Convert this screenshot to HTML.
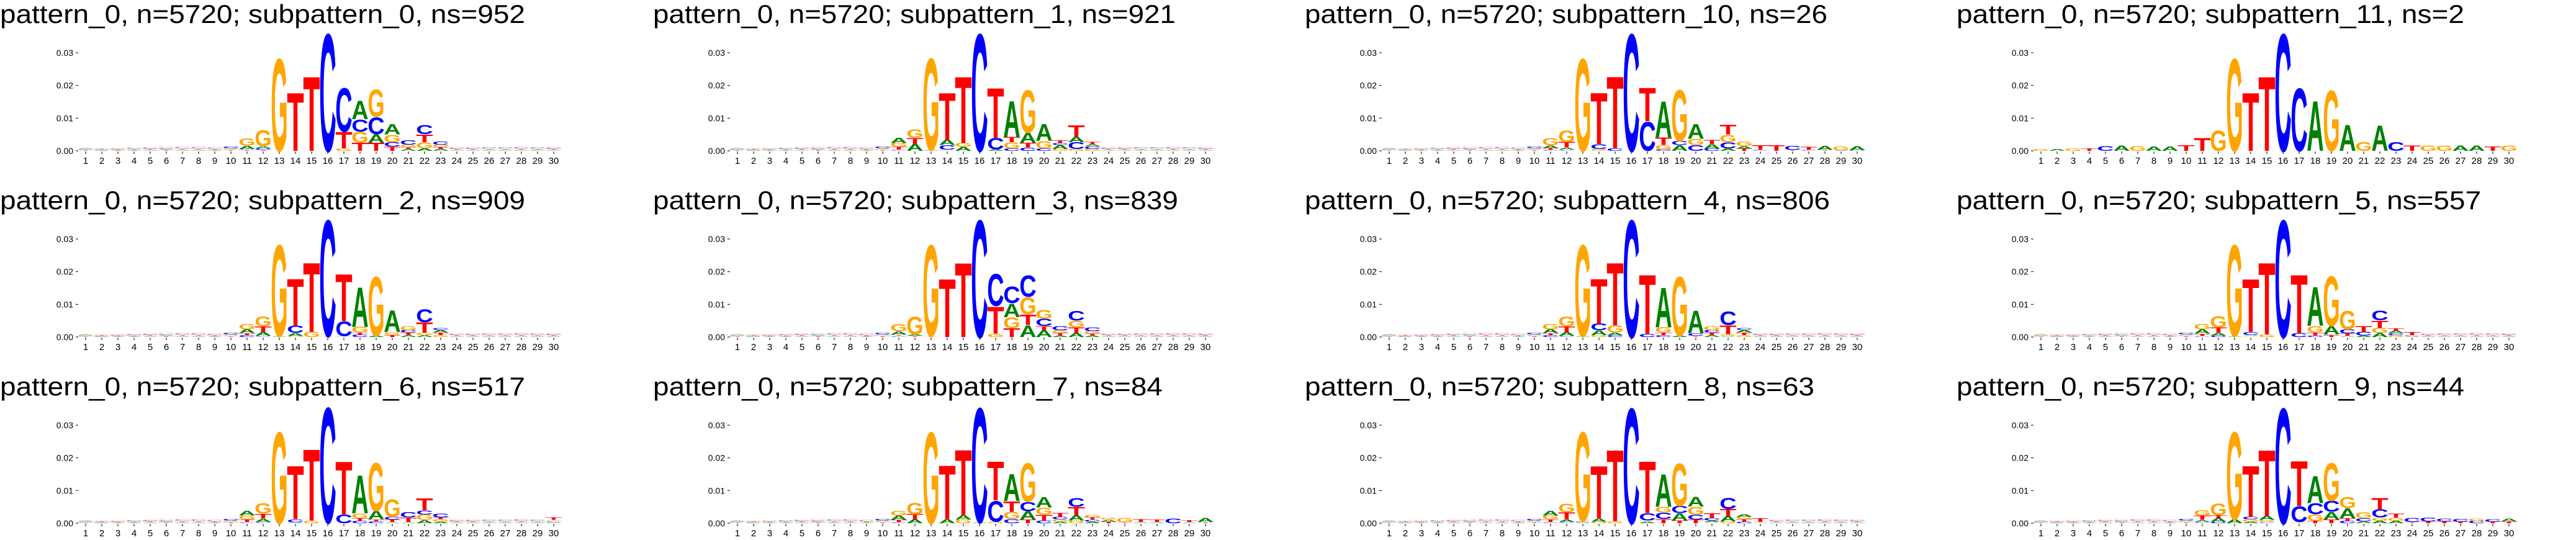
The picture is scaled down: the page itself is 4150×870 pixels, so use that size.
<!DOCTYPE html>
<html><head><meta charset="utf-8">
<style>
html,body{margin:0;padding:0;background:#fff;}
svg{display:block;}
</style></head>
<body>
<svg id="chart" width="4150" height="870" viewBox="0 0 4150 870" xmlns="http://www.w3.org/2000/svg"></svg>
<script>
// ---- data (heights in units of 0.001) ----
const positions = [1,2,3,4,5,6,7,8,9,10,11,12,13,14,15,16,17,18,19,20,21,22,23,24,25,26,27,28,29,30];
const yTicks = [0, 0.01, 0.02, 0.03];
const yTickLabels = ["0.00","0.01","0.02","0.03"];
const titles = [
 "pattern_0, n=5720; subpattern_0, ns=952","pattern_0, n=5720; subpattern_1, ns=921",
 "pattern_0, n=5720; subpattern_10, ns=26","pattern_0, n=5720; subpattern_11, ns=2",
 "pattern_0, n=5720; subpattern_2, ns=909","pattern_0, n=5720; subpattern_3, ns=839",
 "pattern_0, n=5720; subpattern_4, ns=806","pattern_0, n=5720; subpattern_5, ns=557",
 "pattern_0, n=5720; subpattern_6, ns=517","pattern_0, n=5720; subpattern_7, ns=84",
 "pattern_0, n=5720; subpattern_8, ns=63","pattern_0, n=5720; subpattern_9, ns=44"];
const background = ["T.2 C.2 G.2 A.2","A.2 C.2 T.2 G.2","A.2 T.2 C.2 G.3","A.2 T.2 G.2 C.3","A.3 T.3 C.3 G.4","T.3 A.3 C.4 G.4","A.3 T.3 G.3 C.4","A.3 T.3 G.3 C.3","A.2 T.3 G.2 C.3","T.3 G.3 A.3 C.5",
 "","","","","","","","","","","","","",
 "A.3 T.3 C.3 G.4","A.3 T.3 C.3 G.4","A.3 T.2 G.3 C.3","A.3 T.2 G.3 C.3","A.3 T.3 G.3 C.4","A.3 T.2 G.3 C.3","A.3 T.3 C.3 G.4"];
const sub0 = ["","","","","","","","","","","T.3 C.3 A1 G2.2","T.3 C.5 A.6 G5","G29","T18.3","T23.4","C36.8","G.8 T5.1 C13.7","T2.5 G3.4 C3.8 A5.8","T2.5 A2.6 C5.3 G8.6","T1.3 C1.4 G2.3 A3.3","A.6 T.5 G.8 C1.4","A.8 G1.9 T2.4 C2.9","A.6 T.6 G.7 C1","","","","","","",""];
const sub1 = ["","","","","","","","","","","C.4 T.9 G1.1 A1.6","A2.1 T1.9 G2.6","A.3 G28.8","G.4 C1.4 A1.6 T14.8","A1.2 G1.2 T20.9","C36.8","A.5 C3.5 T15.6","C.8 G1.9 T1.6 A11.3","C1 T1.5 A3.1 G13.4","C.8 G2.2 A5.3","G.6 A1.2 C.6 T.9","G.6 C2.1 A1.6 T3.7","G.6 C.8 A.6 T.8","","","","","","",""];
const sub10 = ["","","","","","","","","","","C.3 T.6 A.8 G2.3","C.4 A.6 T1.7 G3.7","G29","G.6 C1.5 T16.1","C.8 T22.6","C36.8","C9.1 T10.5","C.5 G1.3 T2.4 A11.4","A1.8 C1.2 G16","C1.8 G1.9 A4.6","C.7 A1.4 T1.2","A.8 C1.9 G2.3 T3","T.7 A.8 G1.4","C.3 T1.5","T1.8","T.3 C1.3","C.3 T1","T.3 A1.2","A.2 G1.1","C.2 A1.2"];
const sub11 = ["G.6","A.6","G.7","T.7","C1.5","A1.6","G1.5","A1.4","A1.4","T1.7","T4","G6.4","G29","T18.3","T23.4","C36.8","C19.7","A15.6","G19","A8.2","G2.7","A8","C2.7","T1.6","G1.6","G1.6","A1.6","A1.6","T1.4","G1.6"];
const sub2 = ["","","","","","","","","","","C.6 T.6 A1.2 G1.6","C.4 A1.1 T1.7 G3.2","A.3 G28.7","G.3 A1 C2.2 T14.8","G1.6 T21.8","T.3 C36.5","G.3 C4.6 T14.7","C.8 T.6 G1.7 A12.5","A.5 G18.5","T.6 G.9 A6.8","A.6 T.8 C.7 G1.3","A.6 G.7 T3.3 C4","G.6 T.8 A.8 C.6","","","","","","",""];
const sub3 = ["","","","","","","","","","","C.4 T.4 A1 G2.2","T.4 A.5 G5.5","T.3 G28.7","T18.3","T23.4","C36.8","G1 T8.5 C10.1","T2.7 G3.4 A4.3 C5.1","A3.7 T3.3 G5.3 C6.7","A2.1 T1.3 C2.2 G2.7","A.5 T.8 G.8 C1.2","A1.2 T1.8 G2 C3","A.5 T.6 G.7 C1.1","","","","","","",""];
const sub4 = ["","","","","","","","","","","C.6 T.6 A1.2 G1.6","C.4 A1.1 T1.7 G3.2","A.3 G28.7","G.6 A1.5 C2.1 T14","C.6 A.8 G2.2 T19.7","C36.8","C1 T18.6","C.6 T.8 G1.6 A12.5","A.5 G18.5","T.4 C.8 A7.1","A.6 T.8 C.7 G1.2","A.4 G.5 T2.8 C4.3","G.6 T.8 A.8 C.6","","","","","","",""];
const sub5 = ["","","","","","","","","","","C.4 T.6 A1.4 G1.6","C.5 A.8 T1.6 G3.5","A.3 G28.7","G.4 A.3 C.9 T16.6","G.8 T22.6","C36.8","C1.2 T18.4","C.5 T.9 G2 A12.2","T.6 C.3 A2.5 G15.6","A.4 T.7 C1.3 G5.8","A.5 C1.1 T1.7","A1.2 G1.6 T2.3 C3","G.6 C.6 A.7 T.8","A.3 C.3 T1","","","","","",""];
const sub6 = ["","","","","","","","","","","C.4 T.7 G1.3 A1.5","C.4 A1 T1.5 G3.3","G28.7","A.3 C.9 T16.8","G.8 T22.5","T.2 C36.2","C2.8 T16.6","C.8 T.7 G1.5 A12","C.6 T.6 A2.6 G15","A.4 T.7 C.9 G5.4","A.4 T1.4 C1.6","A1 G1.7 C1.3 T3.8","A.5 G.7 T.6 C1.1","","","","","","","A.3 C.3 G.4 T.7"];
const sub7 = ["","","","","","","","","","","C.3 T.7 A1.4 G1.5","A1.2 T1.6 G3.5","G28.7","A1.2 T16.9","G1.1 A1.4 T20.6","A.3 C36","G.5 C6.5 T12.2","C1.3 G2.2 T3.3 A8.5","T1.1 A2.6 C2.9 G12.1","C.9 T1.8 G2.1 A3.3","A.5 G.7 C.8 T1.1","G.9 A1.6 T2.5 C2.8","A.5 C.6 T.7 G.7","T.5 A.6 G.6","T.3 G1.4","A.4 T.9","A.4 T.8","C1.5","A.4 T.6","T.4 A1.2"];
const sub8 = ["","","","","","","","","","","C.4 T.8 G1.2 A1.5","C.4 A.8 T2.1 G2.8","A.3 C.4 G28","G.5 A1 T16.5","G.6 T22.5","C36.2","A.5 G.4 C2.2 T16.3","T1.3 C2 G1.8 A10.2","T.9 A2.2 C2.2 G13.4","T1.1 C1.5 G2.5 A3","G.4 A.5 C.7 T1.5","G.6 A1.6 T2.2 C3.4","C.5 T.8 G.7 A.8","G.4 T1.1","","","","","",""];
const sub9 = ["","","","","","","","","","","C.4 A.6 T1.4 G1.6","C.5 A1.1 T.9 G3.7","A1.2 G27.5","A.5 G.7 C.7 T16.1","C.4 G.6 A1.2 T20.8","C36.2","G.4 C4.9 T14.1","T.8 G2 C3.4 A8.6","T1.1 A2.4 C3.4 G11.8","C.8 T.7 A3.2 G3.4","A.6 C1 G1.7","A.8 G1 C2.5 T3.5","A.8 G.9 T1.2","T.4 C1.2","T.6 C1.1","T.6 C.9","T.5 C.9","C.7 G.8","T.5 C.7","T.6 A.9"];
const panelData = [sub0, sub1, sub10, sub11, sub2, sub3, sub4, sub5, sub6, sub7, sub8, sub9];

// ---- layout (pixels, not data) ----
const colPos1 = [138, 1188, 2238, 3288];
const colTitleX = [0, 1052, 2102, 3152];
const titleW = [846, 842, 842, 818, 846, 846, 846, 845, 846, 821, 821, 818];
const AXIS_SPAN = 754;
const COLORS = {A:"#008000", C:"#0000ff", G:"#ffa500", T:"#ff0000"};
const NS = "http://www.w3.org/2000/svg";
const svg = document.getElementById("chart");
function mk(tag, attrs, parent){ const e=document.createElementNS(NS,tag); for(const k in attrs) e.setAttribute(k,attrs[k]); parent.appendChild(e); return e; }
const PX_PER_UNIT = 52.67; // px per 0.01

panelData.forEach((data, p) => {
  const row = Math.floor(p/4), col = p % 4;
  const x1 = colPos1[col];
  const y0 = 243 + row*300;
  const sp = AXIS_SPAN/29;
  const xScale = i => x1 + (i-1)*sp;
  const yScale = v => y0 - v*100*PX_PER_UNIT;
  const g = mk("g", {}, svg);
  
  
  const t = mk("text", {x:colTitleX[col], y:37+row*300, "font-family":"Liberation Sans, sans-serif", "font-size":42, textLength:titleW[p], lengthAdjust:"spacingAndGlyphs", fill:"#000"}, g);
  t.textContent = titles[p];
  
  
  yTicks.forEach((v, k) => {
    const yy = yScale(v);
    const lab = mk("text", {x:x1 - 20, y:yy+5, "font-family":"Liberation Sans, sans-serif", "font-size":14, "text-anchor":"end", fill:"#000"}, g);
    lab.textContent = yTickLabels[k];
    
    
    mk("line", {x1:x1 - 16, x2:x1 - 12, y1:yy, y2:yy, stroke:"#000", "stroke-width":1}, g);
  });
  positions.forEach(pos => {
    const xx = xScale(pos);
    mk("line", {x1:xx, x2:xx, y1:y0+1, y2:y0+5, stroke:"#000", "stroke-width":1}, g);
    const lab = mk("text", {x:xx, y:y0+21, "font-family":"Liberation Sans, sans-serif", "font-size":15, "text-anchor":"middle", fill:"#000"}, g);
    lab.textContent = String(pos);
    
    
  });
  positions.forEach((pos, i) => {
    const s = data[i] !== "" ? data[i] : background[i];
    if (!s) return;
    let base = 0;
    const w = sp*0.95;
    s.split(" ").forEach(tok => {
      const L = tok[0];
      const h = parseFloat(tok.slice(1))/1000;
      const yb = yScale(base), yt = yScale(base+h);
      const hp = yb - yt;
      const sx = w/54, sy = hp/71.6;
      const el = mk("text", {x:0, y:0, "font-family":"Liberation Sans, sans-serif", "font-weight":"bold", "font-size":100, "text-anchor":"middle", textLength:60, lengthAdjust:"spacingAndGlyphs", fill:COLORS[L], opacity:(h<0.0005?0.45:1), transform:`translate(${xScale(pos).toFixed(2)},${yb.toFixed(2)}) scale(${sx.toFixed(4)},${sy.toFixed(4)})`}, g);
      el.textContent = L;
      
      
      base += h;
    });
  });
});
</script>
</body></html>
